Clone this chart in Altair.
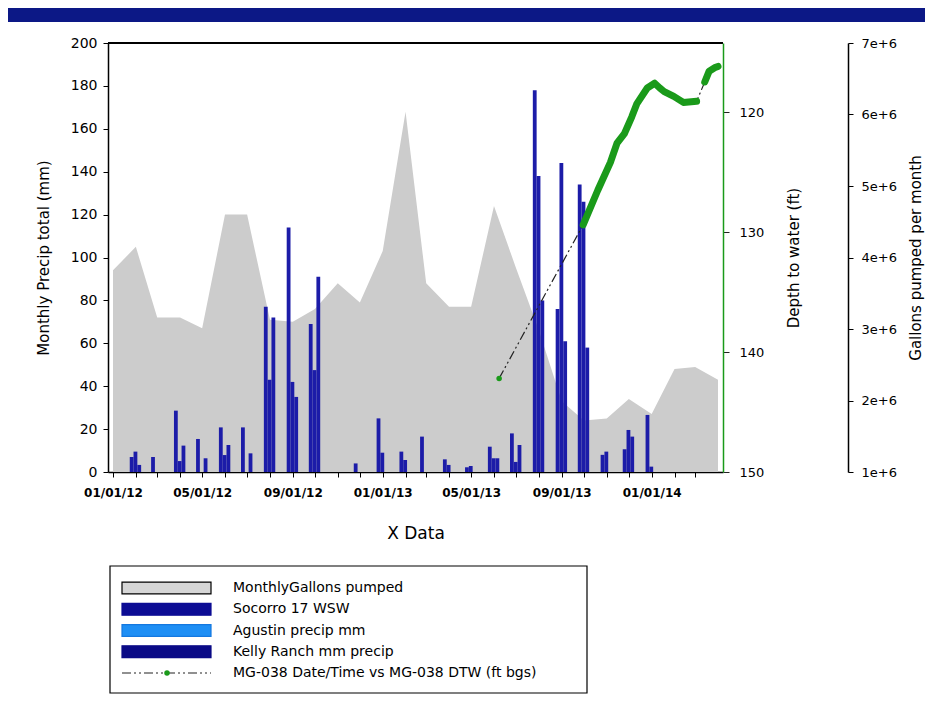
import altair as alt
import pandas as pd

FONT = "DejaVu Sans"
NAVY = "#0c1886"
BAR_BLUE = "#1c1ca8"
GREEN = "#1a9a1a"
AREA_GRAY = "#cccccc"

# ---------------- data ----------------
# monthly precipitation groups (Jan 2012 .. Mar 2014), three bars per month
precip_months = [d.strftime("%Y-%m-%d") for d in pd.date_range("2012-01-01", "2014-03-01", freq="MS")]
precip_left = [0, 7, 7, 28.6, 15.4, 20.8, 20.8, 77, 114, 69, 0, 4,
               25, 9.5, 16.5, 5.9, 2.2, 11.8, 18, 178, 76, 134, 8, 10.6,
               26.6, 0, 0]
precip_mid = [0, 9.5, 0, 5.1, 0, 7.9, 0, 43, 42, 47.5, 0, 0,
              9, 5.6, 0, 3.3, 2.8, 6.4, 4.7, 138, 144, 126, 9.5, 19.6,
              2.5, 0, 0]
precip_right = [0, 3.3, 0, 12.3, 6.4, 12.6, 8.7, 72, 35, 91, 0, 0,
                0, 0, 0, 0, 0, 6.4, 12.6, 80, 61, 58, 0, 16.5,
                0, 0, 0]

# monthly gallons pumped (Jan 2012 .. Apr 2014)
pump_months = [d.strftime("%Y-%m-%d") for d in pd.date_range("2012-01-01", "2014-04-01", freq="MS")]
gallons_pumped = [3.82e6, 4.15e6, 3.16e6, 3.16e6, 3.01e6, 4.60e6, 4.60e6, 3.13e6,
                  3.10e6, 3.28e6, 3.64e6, 3.37e6, 4.09e6, 6.04e6, 3.64e6, 3.31e6,
                  3.31e6, 4.72e6, 3.85e6, 2.98e6, 1.99e6, 1.72e6, 1.75e6, 2.02e6,
                  1.81e6, 2.44e6, 2.47e6, 2.29e6]

# MG-038 depth to water
dtw_dates = ["2013-06-08", "2013-09-30", "2013-10-20", "2013-11-06", "2013-11-15",
             "2013-11-25", "2013-12-05", "2013-12-12", "2013-12-26", "2014-01-05",
             "2014-01-12", "2014-01-18", "2014-01-31", "2014-02-13", "2014-03-03",
             "2014-03-14", "2014-03-20", "2014-03-28", "2014-04-01"]
dtw_ft = [142.2, 129.4, 126.5, 124.2, 122.6, 121.8, 120.4, 119.3, 118.0, 117.6,
          118.0, 118.3, 118.7, 119.2, 119.1, 117.5, 116.6, 116.3, 116.2]
dtw_segment = [0, 1, 1, 1, 1, 1, 1, 1, 1, 1, 1, 1, 1, 1, 1, 2, 2, 2, 2]

legend_labels = ["MonthlyGallons pumped", "Socorro 17 WSW", "Agustin precip mm",
                 "Kelly Ranch mm precip", "MG-038 Date/Time vs MG-038 DTW (ft bgs)"]
legend_fill = ["#d6d6d6", "#0c0c94", "#1e8ff5", "#0a0a86"]
legend_stroke = ["#000000", "#0c0c94", "#1478e0", "#0a0a86"]

# ---------------- tables ----------------
bars_df = pd.DataFrame({
    "month": precip_months * 3,
    "mm": precip_left + precip_mid + precip_right,
    "pos": ["left"] * len(precip_months) + ["mid"] * len(precip_months) + ["right"] * len(precip_months),
})
pump_df = pd.DataFrame({"month": pump_months, "gallons": gallons_pumped})
dtw_df = pd.DataFrame({"date": dtw_dates, "depth": dtw_ft, "seg": dtw_segment})
legend_df = pd.DataFrame({"row": list(range(len(legend_labels))), "label": legend_labels})
one_df = pd.DataFrame({"k": [0]})

# ---------------- scales / axes ----------------
X_DOMAIN = [alt.DateTime(year=2012, month=1, date=1, utc=True),
            alt.DateTime(year=2014, month=4, date=1, utc=True)]
tick_values = [alt.DateTime(year=d.year, month=d.month, date=1, utc=True)
               for d in pd.date_range("2012-01-01", "2014-03-01", freq="MS")]

x_axis = alt.Axis(
    values=tick_values,
    labelExpr="utcmonth(datum.value) % 4 == 0 ? utcFormat(datum.value, '%m/%d/%y') : ''",
    labelFont=FONT, labelFontSize=12, labelFontWeight="bold", labelColor="black",
    labelOverlap=False, labelFlush=False, labelPadding=10,
    tickColor="black", tickSize=5, domainColor="black", domainWidth=1.5, grid=False,
    title="X Data", titleFont=FONT, titleFontSize=17, titleFontWeight="normal",
    titleColor="black", titlePadding=27,
)


def xenc(field):
    return alt.X(f"{field}:T", scale=alt.Scale(type="utc", domain=X_DOMAIN), axis=x_axis)


precip_axis = alt.Axis(
    orient="left", values=list(range(0, 201, 20)), grid=False,
    labelFont=FONT, labelFontSize=14, labelColor="black", labelPadding=6,
    tickColor="black", tickSize=5, domainColor="black", domainWidth=1.5,
    title="Monthly Precip total (mm)", titleFont=FONT, titleFontSize=15,
    titleFontWeight="normal", titleColor="black", titlePadding=19,
)
y_precip = alt.Y("mm:Q", scale=alt.Scale(domain=[0, 200], nice=False), axis=precip_axis)

depth_axis = alt.Axis(
    orient="right", values=[120, 130, 140, 150], grid=False,
    labelFont=FONT, labelFontSize=13, labelColor="black", labelPadding=10,
    tickColor="#222222", tickSize=6, domainColor=GREEN, domainWidth=1.5,
    title="Depth to water (ft)", titleFont=FONT, titleFontSize=15,
    titleFontWeight="normal", titleColor="black", titlePadding=23,
    titleAngle=270, titleBaseline="top", zindex=2,
)
y_depth = alt.Y("depth:Q", scale=alt.Scale(domain=[114.25, 150], reverse=True, nice=False, zero=False),
                axis=depth_axis)

gal_axis = alt.Axis(
    orient="right", offset=125, values=[1e6, 2e6, 3e6, 4e6, 5e6, 6e6, 7e6], grid=False,
    labelExpr="format(datum.value, '.0e')",
    labelFont=FONT, labelFontSize=13, labelColor="black", labelPadding=8,
    tickColor="black", tickSize=5, domainColor="black", domainWidth=1.5,
    title="Gallons pumped per month", titleFont=FONT, titleFontSize=15,
    titleFontWeight="normal", titleColor="black", titlePadding=12,
    titleAngle=270, titleBaseline="top",
)

# ---------------- layers ----------------
area = alt.Chart(pump_df).mark_area(color=AREA_GRAY, opacity=1).encode(
    x=xenc("month"),
    y=alt.Y("gallons:Q", scale=alt.Scale(domain=[1e6, 7e6], nice=False, zero=False), axis=gal_axis),
    y2=alt.datum(1e6),
)


def bar_layer(pos, offset):
    return alt.Chart(bars_df).transform_filter(
        (alt.datum.pos == pos) & (alt.datum.mm > 0)
    ).mark_bar(width=3.8, xOffset=offset, color=BAR_BLUE, opacity=1).encode(
        x=xenc("month"), y=y_precip
    )


bars = alt.layer(bar_layer("left", -4.2), bar_layer("mid", -0.4), bar_layer("right", 3.4))

dash = alt.Chart(dtw_df).mark_line(color="#222222", strokeWidth=1.2,
                                   strokeDash=[9, 3, 2, 3, 2, 3]).encode(
    x=xenc("date"), y=y_depth)
thick = alt.Chart(dtw_df).transform_filter(alt.datum.seg > 0).mark_line(
    color=GREEN, strokeWidth=7, strokeCap="round", strokeJoin="round").encode(
    x=xenc("date"), y=y_depth, detail="seg:N")
dot = alt.Chart(dtw_df).transform_filter(alt.datum.seg == 0).mark_point(
    filled=True, color=GREEN, size=30, opacity=1).encode(x=xenc("date"), y=y_depth)
depth = alt.layer(dash, thick, dot)

# decorative frame pieces: top border of the plot and the navy band above it
top_border = alt.Chart(one_df).mark_rule(color="black", strokeWidth=2).encode(
    x=alt.value(0), x2=alt.value(615), y=alt.value(0))
band = alt.Chart(one_df).mark_rect(color=NAVY).encode(
    x=alt.value(-110), x2=alt.value(820), y=alt.value(-35), y2=alt.value(-21))

# ---------------- legend ----------------
leg_scale = alt.Scale(domain=[0, 4], range=[545, 630])
leg_box = alt.Chart(one_df).mark_rect(fill="white", stroke="black", strokeWidth=1.2).encode(
    x=alt.value(2), x2=alt.value(479), y=alt.value(523), y2=alt.value(650))
leg_swatch = alt.Chart(legend_df).transform_filter(alt.datum.row < 4).transform_calculate(
    r0="datum.row - 0.28", r1="datum.row + 0.28"
).mark_rect(strokeWidth=1.2).encode(
    x=alt.value(14), x2=alt.value(103),
    y=alt.Y("r0:Q", scale=leg_scale, axis=None), y2="r1:Q",
    fill=alt.Fill("label:N", scale=alt.Scale(domain=legend_labels[:4], range=legend_fill), legend=None),
    stroke=alt.Stroke("label:N", scale=alt.Scale(domain=legend_labels[:4], range=legend_stroke), legend=None),
)
leg_line = alt.Chart(legend_df).transform_filter(alt.datum.row == 4).mark_rule(
    color="#222222", strokeWidth=1.2, strokeDash=[9, 3, 2, 3, 2, 3]).encode(
    x=alt.value(14), x2=alt.value(103), y=alt.Y("row:Q", scale=leg_scale, axis=None))
leg_dot = alt.Chart(legend_df).transform_filter(alt.datum.row == 4).mark_point(
    filled=True, color=GREEN, size=30, opacity=1).encode(
    x=alt.value(59), y=alt.Y("row:Q", scale=leg_scale, axis=None))
leg_text = alt.Chart(legend_df).mark_text(
    align="left", baseline="middle", font=FONT, fontSize=14, color="black").encode(
    x=alt.value(125), y=alt.Y("row:Q", scale=leg_scale, axis=None), text="label:N")
legend = alt.layer(leg_box, leg_swatch, leg_line, leg_dot, leg_text)

chart = alt.layer(area, bars, depth, top_border, band, legend).resolve_scale(
    y="independent"
).properties(
    width=615, height=429,
    autosize=alt.AutoSizeParams(type="none"),
    padding={"left": 100, "top": 35, "right": 202, "bottom": 222},
    background="white",
).configure(font=FONT).configure_view(stroke=None)

chart.save("out.html", embed_options={"renderer": "svg", "actions": False})
